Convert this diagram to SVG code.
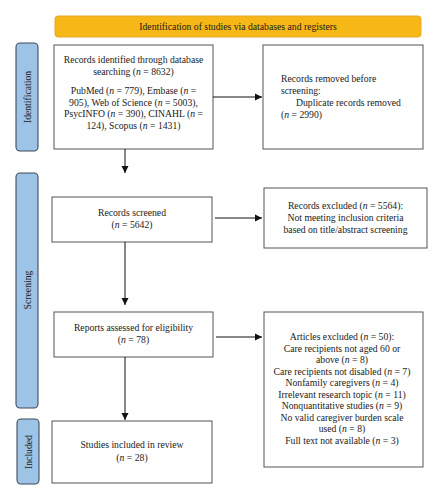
<svg xmlns="http://www.w3.org/2000/svg" width="443" height="500" viewBox="0 0 443 500">
<defs>
<marker id="ah" markerWidth="8" markerHeight="8" refX="7" refY="4" orient="auto" markerUnits="userSpaceOnUse"><path d="M0,0.5 L7,4 L0,7.5 Z" fill="#111"/></marker>
<style>
.box{fill:#fff;stroke:#555;stroke-width:1}
.side{fill:#9DC3E6;stroke:#3f4b5a;stroke-width:1.1}
.t{font-family:"Liberation Serif","Times New Roman",serif;font-size:9.7px;fill:#1a1a1a}
.c{text-anchor:middle}
.conn{stroke:#111;stroke-width:1;fill:none;marker-end:url(#ah)}
</style>
</defs>
<rect width="443" height="500" fill="#fff"/>
<g id="banner">
<rect x="55" y="16" width="366" height="21" rx="3" fill="#F7B716" stroke="#E8A92A" stroke-width="1"/>
<text class="t c" x="238" y="30">Identification of studies via databases and registers</text>
</g>
<g id="label-identification">
<rect class="side" x="16" y="43" width="22" height="108" rx="4"/>
<text class="t c" transform="translate(30.5,97) rotate(-90)">Identification</text>
</g>
<g id="label-screening">
<rect class="side" x="16" y="173" width="22" height="235" rx="4"/>
<text class="t c" transform="translate(30.5,290) rotate(-90)">Screening</text>
</g>
<g id="label-included">
<rect class="side" x="17" y="419" width="22" height="65" rx="4"/>
<text class="t c" transform="translate(31.5,452) rotate(-90)">Included</text>
</g>
<g id="records-identified">
<rect class="box" x="54" y="45" width="159" height="104"/>
<text class="t c" x="133.5" y="63">Records identified through database</text>
<text class="t c" x="133.5" y="75">searching (<tspan font-style="italic">n</tspan> = 8632)</text>
<text class="t c" x="133.5" y="94">PubMed (<tspan font-style="italic">n</tspan> = 779), Embase (<tspan font-style="italic">n</tspan> =</text>
<text class="t c" x="133.5" y="105.5">905), Web of Science (<tspan font-style="italic">n</tspan> = 5003),</text>
<text class="t c" x="133.5" y="117">PsycINFO (<tspan font-style="italic">n</tspan> = 390), CINAHL (<tspan font-style="italic">n</tspan> =</text>
<text class="t c" x="133.5" y="128.5">124), Scopus (<tspan font-style="italic">n</tspan> = 1431)</text>
</g>
<g id="records-removed">
<rect class="box" x="263" y="45" width="160" height="104"/>
<text class="t" x="281" y="82">Records removed before</text>
<text class="t" x="281" y="94">screening:</text>
<text class="t" x="296" y="106">Duplicate records removed</text>
<text class="t" x="281" y="117.5">(<tspan font-style="italic">n</tspan> = 2990)</text>
</g>
<g id="records-screened">
<rect class="box" x="52" y="197" width="160" height="45"/>
<text class="t c" x="132" y="216">Records screened</text>
<text class="t c" x="132" y="227.5">(<tspan font-style="italic">n</tspan> = 5642)</text>
</g>
<g id="records-excluded">
<rect class="box" x="264" y="188" width="163" height="60"/>
<text class="t c" x="345.5" y="209">Records excluded (<tspan font-style="italic">n</tspan> = 5564):</text>
<text class="t c" x="345.5" y="221">Not meeting inclusion criteria</text>
<text class="t c" x="345.5" y="232.5">based on title/abstract screening</text>
</g>
<g id="reports-assessed">
<rect class="box" x="54" y="312" width="159" height="45"/>
<text class="t c" x="133.5" y="331">Reports assessed for eligibility</text>
<text class="t c" x="133.5" y="342.5">(<tspan font-style="italic">n</tspan> = 78)</text>
</g>
<g id="articles-excluded">
<rect class="box" x="264" y="312" width="159" height="155"/>
<text class="t c" x="342" y="340">Articles excluded (<tspan font-style="italic">n</tspan> = 50):</text>
<text class="t c" x="342" y="351.5">Care recipients not aged 60 or</text>
<text class="t c" x="342" y="363">above (<tspan font-style="italic">n</tspan> = 8)</text>
<text class="t c" x="342" y="374.5">Care recipients not disabled (<tspan font-style="italic">n</tspan> = 7)</text>
<text class="t c" x="342" y="386">Nonfamily caregivers (<tspan font-style="italic">n</tspan> = 4)</text>
<text class="t c" x="342" y="397.5">Irrelevant research topic (<tspan font-style="italic">n</tspan> = 11)</text>
<text class="t c" x="342" y="409">Nonquantitative studies (<tspan font-style="italic">n</tspan> = 9)</text>
<text class="t c" x="342" y="420.5">No valid caregiver burden scale</text>
<text class="t c" x="342" y="432">used (<tspan font-style="italic">n</tspan> = 8)</text>
<text class="t c" x="342" y="443.5">Full text not available (<tspan font-style="italic">n</tspan> = 3)</text>
</g>
<g id="studies-included">
<rect class="box" x="52" y="421" width="160" height="62"/>
<text class="t c" x="132" y="448">Studies included in review</text>
<text class="t c" x="132" y="461">(<tspan font-style="italic">n</tspan> = 28)</text>
</g>
<g id="connectors">
<line class="conn" x1="213" y1="97" x2="262" y2="97"/>
<line class="conn" x1="125" y1="149" x2="125" y2="173"/>
<line class="conn" x1="215" y1="218" x2="262" y2="218"/>
<line class="conn" x1="125" y1="242" x2="125" y2="305"/>
<line class="conn" x1="216" y1="337" x2="262" y2="337"/>
<line class="conn" x1="125" y1="357" x2="125" y2="420"/>
</g>
</svg>
